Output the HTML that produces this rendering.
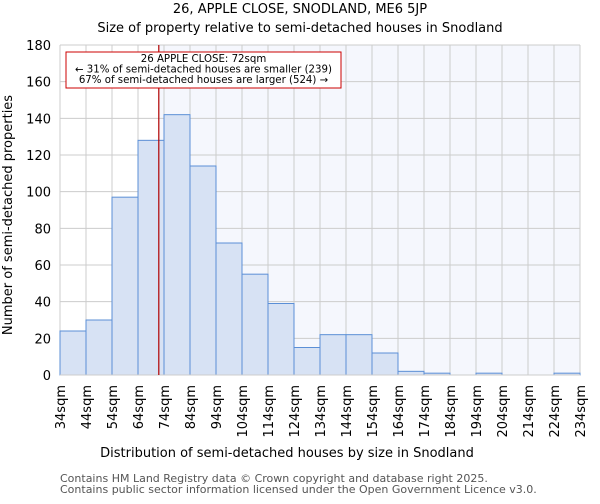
<!DOCTYPE html>
<html><head><meta charset="utf-8"><style>
body{margin:0;background:#fff;font-family:"DejaVu Sans","Liberation Sans",sans-serif;}
</style></head><body>
<svg width="600" height="500" xmlns="http://www.w3.org/2000/svg" font-family="DejaVu Sans, Liberation Sans, sans-serif">
<text x="300" y="13" text-anchor="middle" font-size="13">26, APPLE CLOSE, SNODLAND, ME6 5JP</text>
<text x="300" y="32" text-anchor="middle" font-size="13">Size of property relative to semi-detached houses in Snodland</text>
<g id="plot"></g>
<text x="287" y="457" text-anchor="middle" font-size="13">Distribution of semi-detached houses by size in Snodland</text>
<text transform="translate(12,215) rotate(-90)" text-anchor="middle" font-size="13">Number of semi-detached properties</text>
<text x="60" y="482" font-size="11" fill="#555">Contains HM Land Registry data © Crown copyright and database right 2025.</text>
<text x="60" y="493" font-size="11" fill="#555">Contains public sector information licensed under the Open Government Licence v3.0.</text>
</svg>
<script>
const binStarts=[34,44,54,64,74,84,94,104,114,124,134,144,154,164,174,184,194,204,214,224];
const counts=[24,30,97,128,142,114,72,55,39,15,22,22,12,2,1,0,1,0,0,1];
const xTicks=[34,44,54,64,74,84,94,104,114,124,134,144,154,164,174,184,194,204,214,224,234];
const yTicks=[0,20,40,60,80,100,120,140,160,180];
const marker=72;
const NS='http://www.w3.org/2000/svg';
const g=document.getElementById('plot');
const X0=60,X1=580,Y0=375,Y1=45;
const xs=v=>X0+(v-34)/(234-34)*(X1-X0);
const ys=v=>Y0-v/180*(Y0-Y1);
function mk(t,a,p){const e=document.createElementNS(NS,t);for(const k in a)e.setAttribute(k,a[k]);(p||g).appendChild(e);return e;}
let bg=mk('rect',{x:X0,y:Y1,width:X1-X0,height:Y0-Y1,fill:'#ffffff'});


let sh=mk('rect',{x:xs(marker),y:Y1,width:X1-xs(marker),height:Y0-Y1,fill:'#f5f7fd'});


yTicks.forEach(v=>{
 const l=mk('line',{x1:X0,x2:X1,y1:ys(v),y2:ys(v),stroke:'#cccccc','stroke-width':1});
 
 
 const t=mk('text',{x:X0-9,y:ys(v)+5,'text-anchor':'end','font-size':13});
 t.textContent=v;
 
 
});
xTicks.forEach(v=>{
 const l=mk('line',{x1:xs(v),x2:xs(v),y1:Y1,y2:Y0,stroke:'#cccccc','stroke-width':1});
 
 
 const t=mk('text',{transform:`translate(${xs(v)+5},${Y0+10}) rotate(-90)`,'text-anchor':'end','font-size':13});
 t.textContent=v+'sqm';
 
 
});
counts.forEach((c,i)=>{
 const x=xs(binStarts[i]),w=xs(binStarts[i]+10)-x;
 const r=mk('rect',{x:x,y:ys(c),width:w,height:Y0-ys(c),fill:'#d7e2f4',stroke:'#5b8fd6','stroke-width':1});
 
 
});
const ax=mk('line',{x1:X0,x2:X1,y1:Y0,y2:Y0,stroke:'#cccccc'});


const ml=mk('line',{x1:xs(marker),x2:xs(marker),y1:Y1,y2:Y0,stroke:'#b00000','stroke-width':1.2});


const box=mk('rect',{x:66,y:52,width:275,height:36,fill:'#fff',stroke:'#cc0000','stroke-width':1});


['26 APPLE CLOSE: 72sqm','← 31% of semi-detached houses are smaller (239)','67% of semi-detached houses are larger (524) →'].forEach((s,i)=>{
 const t=mk('text',{x:203.5,y:62+i*10.5,'text-anchor':'middle','font-size':10.2,textLength:i==0?'':undefined});
 t.removeAttribute('textLength');
 t.textContent=s;
 
 
});
</script>
</body></html>
